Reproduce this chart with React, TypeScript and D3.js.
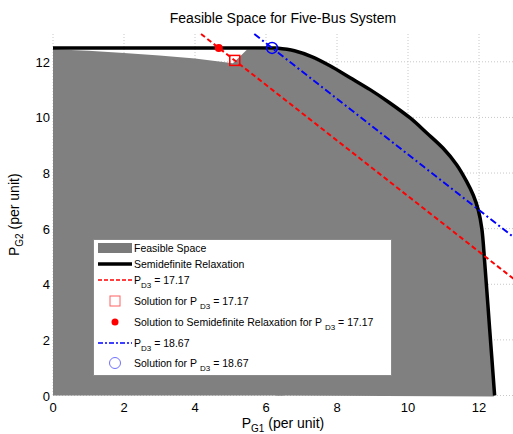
import React, { useEffect, useRef } from 'react';
import * as d3 from 'd3';

// feasible region outline (P_G1, P_G2)
const FEASIBLE_TOP: [number, number][] = [
  [0, 12.45], [1, 12.4], [2, 12.32], [3, 12.23], [4, 12.12], [5.07, 11.95], [5.46, 12.43], [6.3, 12.45],
];
// semidefinite relaxation boundary
const SDR_CURVE: [number, number][] = [
  [0, 12.5], [6.3, 12.5], [6.8, 12.4], [7.3, 12.18], [7.8, 11.86], [8.37, 11.43], [8.93, 11.0],
  [9.49, 10.52], [10.06, 9.98], [10.53, 9.44], [10.99, 8.89], [11.37, 8.3], [11.65, 7.7],
  [11.84, 7.2], [11.98, 6.67], [12.08, 6.0], [12.16, 4.8], [12.3, 2.4], [12.44, 0],
];
const DEMANDS = [17.17, 18.67];
const SOL_SQUARE: [number, number] = [5.12, 12.05];
const SOL_SDR_DOT: [number, number] = [4.67, 12.5];
const SOL_CIRCLE: [number, number] = [6.17, 12.5];
const X_TICKS = [0, 2, 4, 6, 8, 10, 12];
const Y_TICKS = [0, 2, 4, 6, 8, 10, 12];

const FONT = '"Liberation Sans", Arial, Helvetica, sans-serif';

export default function App() {
  const ref = useRef<SVGSVGElement | null>(null);

  useEffect(() => {
    const svg = d3.select(ref.current);
    svg.selectAll('*').remove();

    const W = 513;
    const H = 434;
    const m = { left: 53, top: 34, right: 514.5, bottom: 395.5 };

    const x = d3.scaleLinear().domain([0, 13]).range([m.left, m.right]);
    const y = d3.scaleLinear().domain([0, 13]).range([m.bottom, m.top]);

    svg.append('rect').attr('width', W).attr('height', H).attr('fill', '#fff');

    // grid (under the data, like matlab)
    const grid = svg.append('g').attr('stroke', '#c8c8c8').attr('stroke-dasharray', '1,2').attr('stroke-width', 1);
    X_TICKS.forEach((t) => {
      grid.append('line').attr('x1', x(t)).attr('x2', x(t)).attr('y1', y(13)).attr('y2', y(0));
    });
    Y_TICKS.forEach((t) => {
      grid.append('line').attr('x1', x(0)).attr('x2', x(13)).attr('y1', y(t)).attr('y2', y(t));
    });

    const lin = d3.line<[number, number]>().x((d) => x(d[0])).y((d) => y(d[1]));
    const smooth = d3.line<[number, number]>().x((d) => x(d[0])).y((d) => y(d[1])).curve(d3.curveCatmullRom.alpha(0.5));

    // feasible space: left part (linear) + part under the relaxation curve (smooth)
    const leftPoly: [number, number][] = [[0, 0], ...FEASIBLE_TOP, [6.5, 12.45], [6.5, 0]];
    svg.append('path').attr('d', lin(leftPoly) + 'Z').attr('fill', '#808080');
    const rightSide = SDR_CURVE.slice(1).map((d) => [d[0] - 0.02, d[1] - 0.04] as [number, number]);
    svg.append('path')
      .attr('d', smooth(rightSide) + `L${x(6.28)},${y(0)}Z`)
      .attr('fill', '#808080');

    // semidefinite relaxation
    svg.append('path')
      .attr('d', smooth(SDR_CURVE.slice(1)) || '')
      .attr('fill', 'none').attr('stroke', '#000').attr('stroke-width', 3.5);
    svg.append('line')
      .attr('x1', x(0)).attr('x2', x(6.3)).attr('y1', y(12.5)).attr('y2', y(12.5))
      .attr('stroke', '#000').attr('stroke-width', 3.5);

    // demand lines P_G1 + P_G2 = P_D3
    const styles = [
      { color: '#ff0000', dash: '5,3' },
      { color: '#0000ff', dash: '7,3,2,3' },
    ];
    DEMANDS.forEach((dmd, i) => {
      svg.append('line')
        .attr('x1', x(dmd - 13)).attr('y1', y(13))
        .attr('x2', x(13)).attr('y2', y(dmd - 13))
        .attr('stroke', styles[i].color).attr('stroke-width', 2)
        .attr('stroke-dasharray', styles[i].dash);
    });

    // solutions
    svg.append('rect')
      .attr('x', x(SOL_SQUARE[0]) - 5).attr('y', y(SOL_SQUARE[1]) - 5)
      .attr('width', 10).attr('height', 10)
      .attr('fill', 'none').attr('stroke', '#ff0000').attr('stroke-width', 1.5);
    svg.append('circle')
      .attr('cx', x(SOL_SDR_DOT[0])).attr('cy', y(SOL_SDR_DOT[1])).attr('r', 4)
      .attr('fill', '#ff0000');
    svg.append('circle')
      .attr('cx', x(SOL_CIRCLE[0])).attr('cy', y(SOL_CIRCLE[1])).attr('r', 5.5)
      .attr('fill', 'none').attr('stroke', '#0000ff').attr('stroke-width', 1.5);

    // tick labels
    const txt = svg.append('g').attr('font-family', FONT).attr('fill', '#000');
    X_TICKS.forEach((t) => {
      txt.append('text').attr('x', x(t)).attr('y', 412).attr('text-anchor', 'middle')
        .attr('font-size', 13).text(t);
    });
    Y_TICKS.forEach((t) => {
      txt.append('text').attr('x', 50).attr('y', y(t) + 5)
        .attr('text-anchor', 'end').attr('font-size', 13).text(t);
    });

    // title and axis labels
    txt.append('text').attr('x', 283).attr('y', 23).attr('text-anchor', 'middle')
      .attr('font-size', 14).text('Feasible Space for Five-Bus System');

    const xl = txt.append('text').attr('x', 283).attr('y', 428).attr('text-anchor', 'middle').attr('font-size', 14);
    xl.append('tspan').text('P');
    xl.append('tspan').attr('font-size', 10).attr('dy', 4).text('G1');
    xl.append('tspan').attr('dy', -4).text(' (per unit)');

    const yl = txt.append('text').attr('transform', `translate(19,${(m.top + m.bottom) / 2}) rotate(-90)`)
      .attr('text-anchor', 'middle').attr('font-size', 14);
    yl.append('tspan').text('P');
    yl.append('tspan').attr('font-size', 10).attr('dy', 4).text('G2');
    yl.append('tspan').attr('dy', -4).text(' (per unit)');

    // legend
    const lg = svg.append('g').attr('font-family', FONT).attr('font-size', 10.5);
    lg.append('rect').attr('x', 93.5).attr('y', 239.5).attr('width', 298).attr('height', 136)
      .attr('fill', '#fff').attr('stroke', '#8a8a8a');

    const sx0 = 98;
    const sx1 = 132;
    const tx = 134;
    const mx = 115;
    const rows = [248, 264, 280, 301, 322, 343, 363];

    lg.append('rect').attr('x', sx0).attr('y', rows[0] - 5).attr('width', sx1 - sx0).attr('height', 10).attr('fill', '#7a7a7a');
    lg.append('line').attr('x1', sx0).attr('x2', sx1).attr('y1', rows[1]).attr('y2', rows[1]).attr('stroke', '#000').attr('stroke-width', 3.5);
    lg.append('line').attr('x1', sx0).attr('x2', sx1).attr('y1', rows[2]).attr('y2', rows[2])
      .attr('stroke', '#ff0000').attr('stroke-width', 1.5).attr('stroke-dasharray', '4,2');
    lg.append('rect').attr('x', mx - 5).attr('y', rows[3] - 5).attr('width', 10).attr('height', 10)
      .attr('fill', 'none').attr('stroke', '#ff6060').attr('stroke-width', 1);
    lg.append('circle').attr('cx', mx).attr('cy', rows[4]).attr('r', 3.5).attr('fill', '#ff0000');
    lg.append('line').attr('x1', sx0).attr('x2', sx1).attr('y1', rows[5]).attr('y2', rows[5])
      .attr('stroke', '#0000ff').attr('stroke-width', 1.5).attr('stroke-dasharray', '5,2,2,2');
    lg.append('circle').attr('cx', mx).attr('cy', rows[6]).attr('r', 5.5)
      .attr('fill', 'none').attr('stroke', '#7070ff').attr('stroke-width', 1);

    const label = (row: number, pre: string, sub: string | null, post: string, gap: boolean) => {
      const t = lg.append('text').attr('x', tx).attr('y', rows[row] + 3.5);
      t.append('tspan').text(pre);
      if (sub) {
        t.append('tspan').attr('font-size', 8).attr('dy', 4).attr('dx', gap ? 3 : 0).text(sub);
        t.append('tspan').attr('dy', -4).text(post);
      }
    };
    label(0, 'Feasible Space', null, '', false);
    label(1, 'Semidefinite Relaxation', null, '', false);
    label(2, 'P', 'D3', ' = 17.17', false);
    label(3, 'Solution for P', 'D3', ' = 17.17', true);
    label(4, 'Solution to Semidefinite Relaxation for P', 'D3', ' = 17.17', true);
    label(5, 'P', 'D3', ' = 18.67', false);
    label(6, 'Solution for P', 'D3', ' = 18.67', true);
  }, []);

  return (
    <div style={{ position: 'absolute', left: 0, top: 0 }}>
      <svg ref={ref} width={513} height={434} style={{ display: 'block' }} />
    </div>
  );
}
